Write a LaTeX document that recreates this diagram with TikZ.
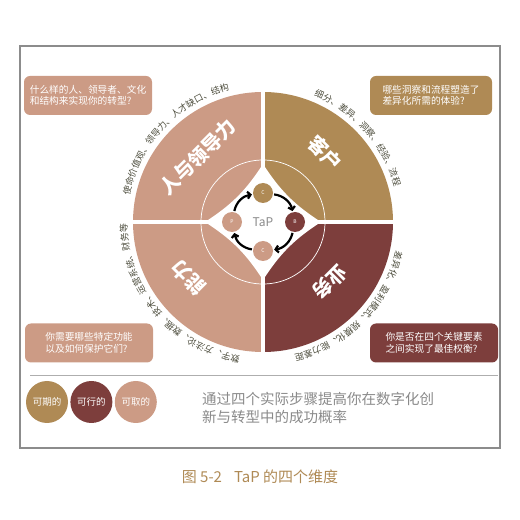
\documentclass[tikz,border=0pt]{standalone}
\usepackage{fontspec}
\setmainfont{Noto Sans CJK SC}
\usepackage{tikz}
\usetikzlibrary{arrows.meta,positioning,decorations.text,calc}
\definecolor{rose}{HTML}{CC9B85}
\definecolor{ochre}{HTML}{AF8A55}
\definecolor{wine}{HTML}{7D3E3C}
\definecolor{arctext}{HTML}{4D4D3D}
\definecolor{framegrey}{HTML}{8C8C8C}
\definecolor{taggrey}{HTML}{8A8A8A}
\newcommand{\arcfont}{\fontsize{9}{9}\selectfont\color{arctext}}
\newcommand{\boxfont}{\fontsize{9.7}{11.5}\selectfont}

\tikzset{
  callout/.style={fill=#1, rounded corners=6pt, text=white, font=\boxfont, align=left, inner sep=0pt, minimum height=39pt},
  legend/.style={circle, fill=#1, minimum size=42pt, inner sep=0pt, text=white, font=\fontsize{9.5}{9.5}\selectfont},
  quadlabel/.style={text=white, font=\fontsize{19.5}{19.5}\selectfont\bfseries},
  stepdot/.style={circle, fill=#1, minimum size=20pt, inner sep=0pt, text=white, font=\fontsize{5}{5}\selectfont},
  cyclearrow/.style={line width=2.2pt, -{Straight Barb[length=3pt,width=7pt]}, shorten <=1pt, shorten >=1pt},
  arclabel/.style={decorate, decoration={text along path, text align=center, text={|\arcfont|#1}}}
}

\begin{document}
\begin{tikzpicture}[x=1pt, y=1pt]
\useasboundingbox (0,0) rectangle (520,520);
% frame and separator
\draw[framegrey, line width=1.2pt] (20,72) rectangle (500,474);
\draw[framegrey!70, line width=0.8pt] (30,145) -- (498,145);

% the wheel
\begin{scope}[shift={(263,298)}]
\fill[rose]  (0,0) -- (180:130) arc[start angle=180, end angle=90,  radius=130] -- cycle;
\fill[ochre] (0,0) -- (90:130)  arc[start angle=90,  end angle=0,   radius=130] -- cycle;
\fill[wine]  (0,0) -- (0:130)   arc[start angle=0,   end angle=-90, radius=130] -- cycle;
\fill[rose]  (0,0) -- (-90:130) arc[start angle=-90, end angle=-180, radius=130] -- cycle;
\draw[white, line width=0.7pt] (0,0) circle[radius=62];
\draw[white, line width=4pt] (-132,0) -- (132,0);
\draw[white, line width=4pt] (0,-132) -- (0,132);
% white hollow diamond in the middle
\fill[white] (0,58) to[bend right=12] (58,0) to[bend right=12] (0,-58)
             to[bend right=12] (-58,0) to[bend right=12] (0,58) -- cycle;
\foreach \a in {90,0,-90,180} \fill[white] (\a:30) circle[radius=13];

\node[quadlabel, rotate=45]  (people)   at (135:92) {人与领导力};
\node[quadlabel, rotate=-45] (customer) at (48:93)  {客户};
\node[quadlabel, rotate=225] (business) at (-42:90) {业务};
\node[quadlabel, rotate=135] (ability)  at (217:93) {能力};

% texts round the rim
\path[arclabel={使命价值观、领导力、人才缺口、结构}] (175:136) arc[start angle=175, end angle=98, radius=136];
\path[arclabel={细分、差异、洞察、经验、流程}] (80:136) arc[start angle=80, end angle=3, radius=136];
\path[arclabel={差异化、盈利模式、规模化、能力差距}] (-5:136) arc[start angle=-5, end angle=-84, radius=136];
\path[arclabel={数字、方法论、数据、技术、运营系统、财务等}] (260:136) arc[start angle=260, end angle=181, radius=136];

% the TaP cycle
\node[text=taggrey, font=\fontsize{12}{12}\selectfont] (tap) at (0,0) {TaP};
\node[stepdot=ochre] (ctop)    at (90:29)  {C};
\node[stepdot=wine]  (bright)  at (0:32)   {B};
\node[stepdot=rose]  (cbottom) at (-90:29) {C};
\node[stepdot=rose]  (pleft)   at (180:31) {P};
\draw[cyclearrow] (ctop) to[bend left=35] (bright);
\draw[cyclearrow] (bright) to[bend left=35] (cbottom);
\draw[cyclearrow] (cbottom) to[bend left=35] (pleft);
\draw[cyclearrow] (pleft) to[bend left=35] (ctop);
\end{scope}

% questions in the corners
\node[callout=rose,  minimum width=128pt] (askpeople)   at (88,424.5)  {什么样的人、领导者、文化\\和结构来实现你的转型?};
\node[callout=ochre, minimum width=122pt] (askcustomer) at (431,424.5) {哪些洞察和流程塑造了\\差异化所需的体验?};
\node[callout=rose,  minimum width=128pt] (askability)  at (89,177)    {你需要哪些特定功能\\以及如何保护它们?};
\node[callout=wine,  minimum width=128pt] (askbusiness) at (434,177)   {你是否在四个关键要素\\之间实现了最佳权衡?};

% legend
\node[legend=ochre] (desirable) at (47,118) {可期的};
\node[legend=wine, right=2pt of desirable] (feasible) {可行的};
\node[legend=rose, right=2pt of feasible] (viable) {可取的};
\node[anchor=west, align=left, inner sep=0pt, text=taggrey, font=\fontsize{14.5}{18}\selectfont] (tagline) at (202,112)
  {通过四个实际步骤提高你在数字化创\\新与转型中的成功概率};

\node[text=ochre, font=\fontsize{15}{15}\selectfont] (caption) at (260,43) {图 5-2\hspace{12pt}TaP 的四个维度};
\end{tikzpicture}
\end{document}
